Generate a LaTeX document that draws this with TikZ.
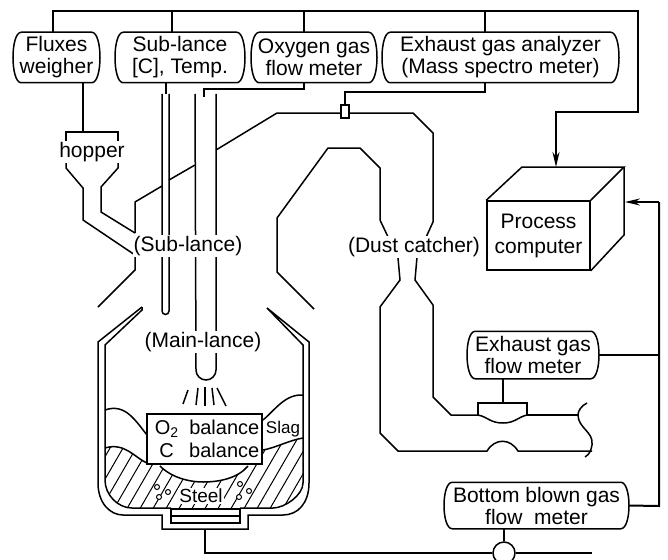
\documentclass[tikz,border=0pt]{standalone}
\usepackage{fontspec}
\setmainfont{Liberation Sans}
\usetikzlibrary{arrows.meta}
\tikzset{
  meter/.style={align=center, inner sep=0pt, minimum height=#1,
    append after command={\pgfextra{\let\mname\tikzlastnode
      \draw ([xshift=8pt]\mname.north west) -- ([xshift=-8pt]\mname.north east)
        .. controls ([xshift=3pt]\mname.north east) and ([xshift=3pt]\mname.south east) .. ([xshift=-8pt]\mname.south east)
        -- ([xshift=8pt]\mname.south west)
        .. controls ([xshift=-3pt]\mname.south west) and ([xshift=-3pt]\mname.north west) .. ([xshift=8pt]\mname.north west) -- cycle;}}},
  tag/.style={fill=white, inner sep=1pt},
  signal/.style={line width=2pt}
}
\begin{document}
\begin{tikzpicture}[x=1pt, y=-1pt, line width=1.5pt, >={Stealth[length=15pt,width=7pt]},
    every node/.style={font=\fontsize{21}{22}\selectfont}]
  \clip (0,0) rectangle (668,559);

  % instruments
  \node[meter=49pt, minimum width=85pt] (fluxes) at (56.5,57.5) {Fluxes\\weigher};
  \node[meter=49pt, minimum width=128pt] (sublance) at (180,57.5) {Sub-lance\\{[C]}, Temp.};
  \node[meter=49pt, minimum width=124pt] (oxygen) at (314,57.5) {Oxygen gas\\flow meter};
  \node[meter=49pt, minimum width=235pt] (analyzer) at (500.5,57.5) {Exhaust gas analyzer\\(Mass spectro meter)};
  \node[meter=46pt, minimum width=130pt] (exhaustflow) at (533,355) {Exhaust gas\\flow meter};
  \node[meter=45pt, minimum width=183pt] (bottomgas) at (536.5,505.5) {Bottom blown gas\\flow\ \ meter};

  % computer
  \node[draw, align=center, minimum width=103pt, minimum height=69pt, inner sep=0pt, font=\fontsize{21}{25}\selectfont] (computer) at (538.5,235.5) {Process\\computer};
  \coordinate (cubetop) at (556,167);
  \coordinate (cubeside) at (625,202);
  \draw (computer.north west) -- (522,167) -- (624,167) -- (computer.north east);
  \draw (624,167) -- (624,235) -- (computer.south east);

  % signal lines
  \coordinate (busfluxes) at (53,11);
  \coordinate (busright) at (638,11);
  \coordinate (rbus) at (659,202);
  \draw[signal] (fluxes.north -| busfluxes) -- (busfluxes) -- (busright) -- (638,112) -| (556,140);
  \draw[signal, ->] (556,112) -- (cubetop);
  \draw (172,11) -- (sublance.north -| 172,0);
  \draw (304,11) -- (oxygen.north -| 304,0);
  \draw (485,11) -- (analyzer.north -| 485,0);
  \coordinate (oxin) at (204,97);
  \coordinate (sensor) at (345,105);
  \draw (oxygen.south -| 304,0) -- (304,89) -| (oxin);
  \draw (analyzer.south -| 485,0) -- (485,92) -| (sensor);
  \draw (sublance.south -| 166,0) -- (166,94);
  \draw[signal] (exhaustflow.east) -- (659,355);
  \draw[signal] (bottomgas.east) -- (659,506) -- (rbus);
  \draw[signal, ->] (rbus) -- (cubeside);

  % hopper
  \coordinate (hopin) at (83,132);
  \draw (fluxes.south -| hopin) -- (hopin);
  \draw (66,142) -- (66,132) -- (118,132) -- (118,142);
  \draw (66,163) -- (66,168) -- (83,188) -- (83,220) -- (135,255) -- (135,270) -- (98,307);
  \draw (118,163) -- (118,168) -- (101,187) -- (101,212) -- (135,233);

  % lances
  \draw (162,94) -- (162,311) arc[start angle=180, end angle=360, radius=3.5pt] -- (169,94);
  \draw (195,94) -- (196,370) arc[start angle=180, end angle=360, radius=10pt] -- (216,94);
  \foreach \xa/\ya/\xb/\yb in {188/390/183/404, 198/388/196/405, 205/387/205/406, 212/388/214/405, 217/388/226/406}
    \draw (\xa,\ya) -- (\xb,\yb);

  % hood and dust catcher
  \draw (135,233) -- (135,202) -- (162,186);
  \draw (169,180) -- (195,165);
  \draw (216,150) -- (277,113) -- (341,113);
  \draw (349,113) -- (413,113) -- (433,133) -- (433,222) -- (417,257) -- (415,280) -- (433,305) -- (433,397) -- (451,415) -- (478,415);
  \draw (314,309) -- (277,272) -- (277,218) -- (328,148) -- (360,148) -- (380,168) -- (380,220) -- (398,258) -- (400,280) -- (380,307) -- (380,433) -- (398,451) -- (487,451)
    .. controls (495,438) and (510,438) .. (518,451) -- (592,451);
  \node[draw, fill=white, minimum width=8pt, minimum height=13pt, inner sep=0pt] (sampler) at (345,111.5) {};

  % flow meter on the duct
  \coordinate (flowtap) at (503,403);
  \draw (exhaustflow.south -| flowtap) -- (flowtap);
  \draw (478,415) -- (478,403) -- (527,403) -- (527,415) -- (578,415);
  \draw (478,415) .. controls (488,417) and (490,423) .. (503,423) .. controls (515,423) and (518,417) .. (527,415);
  \draw (587,403) .. controls (581,406) and (578,411) .. (578,415) .. controls (578,428) and (594,432) .. (592,445) .. controls (591,450) and (590,454) .. (585,457);

  % vessel
  \begin{scope}
    \clip (105,448) .. controls (125,442) and (135,458) .. (147,463) -- (160,466)
      .. controls (172,478) and (190,482) .. (203,482) .. controls (220,482) and (238,478) .. (248,466)
      -- (263,450) .. controls (275,448) and (290,440) .. (303,438)
      -- (303,483) .. controls (303,495) and (285,508) .. (273,508) -- (132,508) .. controls (118,508) and (105,495) .. (105,480) -- cycle;
    \foreach \hx in {60,73,...,320}
      \draw[line width=1pt] (\hx,512) -- (\hx+44,436);
  \end{scope}
  \draw (142,307) -- (98,342) -- (98,483) .. controls (98,503) and (110,515) .. (123,515) -- (162,515) -- (162,529) -- (248,529) -- (248,515) -- (283,515) .. controls (298,515) and (309,503) .. (309,483) -- (309,342) -- (267,308) -- (303,345) -- (303,483) .. controls (303,495) and (285,508) .. (273,508) -- (240,508);
  \draw (142,307) -- (142,310) -- (105,345) -- (105,480) .. controls (105,495) and (118,508) .. (132,508) -- (171,508);
  \draw (105,410) .. controls (125,403) and (135,420) .. (147,435);
  \draw (263,420) .. controls (275,410) and (285,394) .. (303,395);
  \draw (105,448) .. controls (125,442) and (135,458) .. (147,463);
  \draw (263,450) .. controls (275,448) and (290,440) .. (303,438);
  \draw (160,466) .. controls (172,478) and (190,482) .. (203,482) .. controls (220,482) and (238,478) .. (248,466);
  \node[draw, fill=white, minimum width=69pt, minimum height=14pt, inner sep=0pt] (plug) at (205.5,516) {};
  \draw (plug.west) -- (plug.east);
  \foreach \bx/\by in {157/487, 168/492, 159/497, 240/484, 249/491, 239/497}
    \draw[line width=1pt, fill=white] (\bx,\by) circle[radius=2.5pt];

  % bottom gas line
  \node[draw, circle, fill=white, minimum size=22pt, inner sep=0pt] (valve) at (504,553) {};
  \coordinate (tap) at (205,529);
  \coordinate (lineend) at (592,553);
  \draw (bottomgas.south -| valve) -- (valve);
  \draw (tap) |- (valve);
  \draw (valve) -- (lineend);

  % labels
  \node[tag] (hopper) at (92,152) {hopper};
  \node[tag] (sublabel) at (188,246) {(Sub-lance)};
  \node[tag] (mainlabel) at (203,342) {(Main-lance)};
  \node[tag] (dustlabel) at (414,247) {(Dust catcher)};
  \node[draw, fill=white, align=left, minimum width=115pt, minimum height=50pt, inner sep=0pt, font=\fontsize{20}{23}\selectfont] (balance) at (204.5,439)
    {\makebox[34pt]{O\textsubscript{2}} balance\\ \makebox[34pt]{C} balance};
  \node[inner sep=0pt, font=\fontsize{17}{17}\selectfont] (slag) at (283,429) {Slag};
  \node[inner sep=1pt, fill=white, font=\fontsize{19}{19}\selectfont] (steel) at (201,496) {Steel};
\end{tikzpicture}
\end{document}
